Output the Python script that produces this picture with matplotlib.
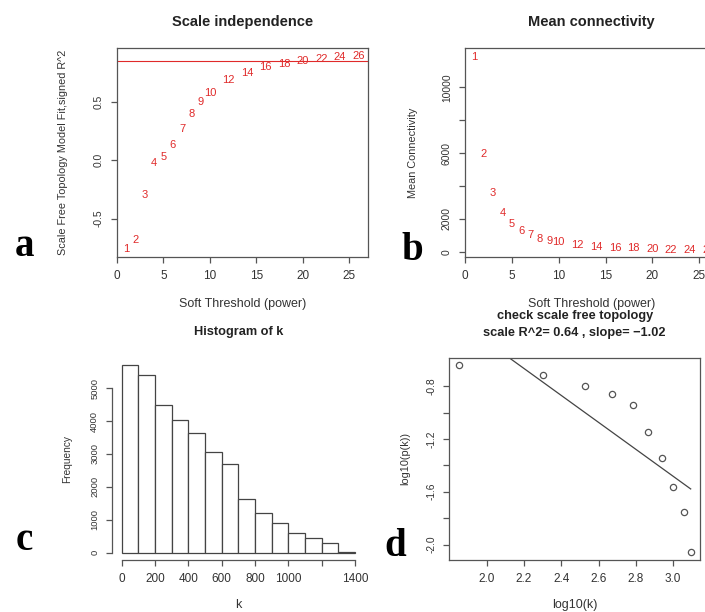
import matplotlib
matplotlib.use("Agg")
import matplotlib.pyplot as plt

# ---- data ------------------------------------------------------------------
POWERS = [1, 2, 3, 4, 5, 6, 7, 8, 9, 10, 12, 14, 16, 18, 20, 22, 24, 26]
SIGNED_R2 = [-0.764, -0.684, -0.296, -0.022, 0.029, 0.129, 0.265, 0.394, 0.503,
             0.581, 0.687, 0.747, 0.797, 0.825, 0.848, 0.866, 0.883, 0.897]
MEAN_K = [11854, 5939, 3587, 2334, 1684, 1277, 997, 772, 669, 571,
          407, 304, 243, 200, 160, 130, 110, 90]
R2_CUTOFF = 0.85

HIST_EDGES = [0, 100, 200, 300, 400, 500, 600, 700, 800, 900, 1000, 1100,
              1200, 1300, 1400]
HIST_COUNTS = [5710, 5405, 4492, 4036, 3650, 3072, 2697, 1622, 1197, 892,
               588, 436, 304, 30]

LOG_K = [1.849, 2.301, 2.528, 2.674, 2.782, 2.865, 2.940, 2.998, 3.057, 3.094]
LOG_PK = [-0.642, -0.714, -0.797, -0.858, -0.946, -1.147, -1.348, -1.567,
          -1.751, -2.060]
FIT_INTERCEPT = 1.577
FIT_SLOPE = -1.02
FIT_R2 = 0.64

# ---- style -----------------------------------------------------------------
W, H = 705, 612
RED = "#e02a2a"
FRAME = "#555555"
TEXT = "#333333"

plt.rcParams["font.family"] = ["Liberation Sans", "DejaVu Sans"]
plt.rcParams["axes.unicode_minus"] = False


def px_axes(fig, left, top, right, bottom):
    """Add an axes given its pixel box (origin top-left)."""
    return fig.add_axes([left / W, 1 - bottom / H,
                         (right - left) / W, (bottom - top) / H])


def r_style(ax, box=True, ysize=7.4):
    for side, sp in ax.spines.items():
        sp.set_color(FRAME)
        sp.set_linewidth(0.9)
        if not box and side in ("top", "right"):
            sp.set_visible(False)
    ax.tick_params(direction="out", length=4.5, width=0.9, color=FRAME,
                   labelcolor=TEXT)
    ax.tick_params(axis="x", pad=5, labelsize=8.5)
    ax.tick_params(axis="y", pad=5, labelsize=ysize)
    for lab in ax.get_yticklabels():
        lab.set_rotation(90)
        lab.set_va("center")


def labels(ax, title, xlabel, ylabel, xl_y, yl_x, t_y, tsize=10.5, ylsize=7.8):
    ax.text(0.5, t_y, title, transform=ax.transAxes, ha="center",
            va="center", fontsize=tsize, fontweight="bold", color="#222222")
    ax.set_xlabel(xlabel, fontsize=9, color=TEXT, va="center")
    ax.xaxis.set_label_coords(0.5, xl_y)
    ax.set_ylabel(ylabel, fontsize=ylsize, color=TEXT, va="center")
    ax.yaxis.set_label_coords(yl_x, 0.5)


fig = plt.figure(figsize=(W / 100, H / 100), dpi=100)

# ---- a: scale independence -------------------------------------------------
ax = px_axes(fig, 117, 48, 368, 257)
for p, r2 in zip(POWERS, SIGNED_R2):
    ax.text(p, r2, str(p), color=RED, ha="center", va="center", fontsize=8)
ax.axhline(R2_CUTOFF, color=RED, lw=0.8)
ax.set_xlim(0, 27)
ax.set_ylim(-0.830, 0.963)
ax.set_xticks([0, 5, 10, 15, 20, 25])
ax.set_yticks([-0.5, 0.0, 0.5])
ax.set_yticklabels(["-0.5", "0.0", "0.5"])
r_style(ax)
labels(ax, "Scale independence", "Soft Threshold (power)",
       "Scale Free Topology Model Fit,signed R^2", -0.225, -0.215, 1.124)

# ---- b: mean connectivity --------------------------------------------------
ax = px_axes(fig, 465, 48, 718, 257)
for p, k in zip(POWERS, MEAN_K):
    ax.text(p, k, str(p), color=RED, ha="center", va="center", fontsize=8)
ax.set_xlim(0, 27)
ax.set_ylim(-322, 12383)
ax.set_xticks([0, 5, 10, 15, 20, 25])
ax.set_yticks([0, 2000, 4000, 6000, 8000, 10000])
ax.set_yticklabels(["0", "2000", "", "6000", "", "10000"])
r_style(ax)
labels(ax, "Mean connectivity", "Soft Threshold (power)",
       "Mean Connectivity", -0.225, -0.205, 1.124)

# ---- c: histogram of k -----------------------------------------------------
ax = px_axes(fig, 112.4, 357.3, 364.4, 560.2)
ax.bar(HIST_EDGES[:-1], HIST_COUNTS, width=100, align="edge",
       facecolor="white", edgecolor="#444444", linewidth=0.9)
ax.set_xlim(-56, 1456)
ax.set_ylim(-228, 5938)
ax.set_xticks(HIST_EDGES[::2])
ax.set_xticklabels(["0", "200", "400", "600", "800", "1000", "", "1400"])
ax.set_yticks([0, 1000, 2000, 3000, 4000, 5000])
r_style(ax, box=False, ysize=6.8)
ax.spines["left"].set_bounds(0, 5000)
ax.spines["bottom"].set_bounds(0, 1400)
labels(ax, "Histogram of k", "k", "Frequency", -0.221, -0.181, 1.125,
       tsize=9.2, ylsize=7.3)

# ---- d: scale free topology check ------------------------------------------
ax = px_axes(fig, 449.3, 357.7, 700, 560)
ax.plot(LOG_K, LOG_PK, "o", mfc="none", mec="#555555", ms=4.5, mew=0.9)
fit_x = [LOG_K[0], LOG_K[-1]]
fit_y = [FIT_INTERCEPT + FIT_SLOPE * x for x in fit_x]
ax.plot(fit_x, fit_y, color="#444444", lw=0.9)
ax.set_xlim(1.799, 3.144)
ax.set_ylim(-2.117, -0.585)
ax.set_xticks([2.0, 2.2, 2.4, 2.6, 2.8, 3.0])
ax.set_xticklabels(["2.0", "2.2", "2.4", "2.6", "2.8", "3.0"])
ax.set_yticks([-2.0, -1.8, -1.6, -1.4, -1.2, -1.0, -0.8])
ax.set_yticklabels(["-2.0", "", "-1.6", "", "-1.2", "", "-0.8"])
r_style(ax)
labels(ax, "check scale free topology", "log10(k)", "log10(p(k))",
       -0.222, -0.177, 1.206, tsize=9.2)
ax.text(0.5, 1.122, f"scale R^2= {FIT_R2:.2f} , slope= \u2212{abs(FIT_SLOPE):.2f}",
        transform=ax.transAxes, ha="center", va="center", fontsize=9.2,
        fontweight="bold", color="#222222")

# ---- panel letters ---------------------------------------------------------
for letter, x, y in [("a", 24, 247), ("b", 412, 250), ("c", 24, 540),
                     ("d", 395, 547)]:
    fig.text(x / W, 1 - y / H, letter, ha="center", va="center",
             fontsize=28, fontweight="bold", family="Liberation Serif")

fig.savefig("out.png", dpi=100)
